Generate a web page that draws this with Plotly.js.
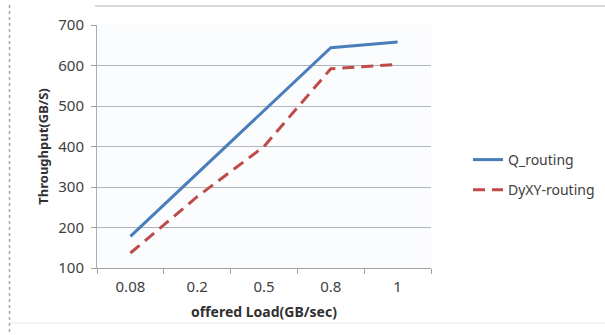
<!DOCTYPE html>
<html>
<head>
<meta charset="utf-8">
<script src="https://cdn.plot.ly/plotly-3.0.1.min.js"></script>
<style>html,body{margin:0;padding:0;background:#fff;}#chart{width:605px;height:335px;}</style>
</head>
<body>
<div id="chart"></div>
<script>
var categories = ["0.08", "0.2", "0.5", "0.8", "1"];
var qRouting = [178, 333, 487, 644, 658];
var dyxyRouting = [137, 276, 400, 592, 603];
var yTicks = [100, 200, 300, 400, 500, 600, 700];

var W = 605, H = 335, L = 97, R = 174, T = 25, B = 67;
function px(x) { return (x - L) / (W - L - R); }
function py(y) { return (H - B - y) / (H - T - B); }

var font = "Noto Sans, Liberation Sans, sans-serif";
var traces = [
  {x: categories, y: qRouting, name: "Q_routing", type: "scatter", mode: "lines",
   line: {color: "#4a7ebb", width: 3}, legendgroup: "a"},
  {x: categories, y: dyxyRouting, name: "DyXY-routing", type: "scatter", mode: "lines",
   line: {color: "#be4b48", width: 3, dash: "12px,7px"}, legendgroup: "b"}
];

var layout = {
  width: W, height: H,
  margin: {l: L, r: R, t: T, b: B, pad: 0, autoexpand: false},
  paper_bgcolor: "#ffffff",
  plot_bgcolor: "#fbfcfe",
  showlegend: true,
  legend: {x: px(468), y: py(144), xanchor: "left", yanchor: "top",
           font: {family: font, size: 14, color: "#404040"},
           tracegroupgap: 9, bgcolor: "rgba(0,0,0,0)"},
  xaxis: {
    type: "category", range: [-0.5, 4.5], automargin: false,
    tickson: "boundaries", ticks: "outside", ticklen: 5, tickcolor: "#a0a0a0",
    showline: true, linecolor: "#a0a0a0", linewidth: 1,
    showgrid: false, zeroline: false, ticklabelstandoff: 5,
    tickfont: {family: font, size: 15, color: "#404040"},
    title: {text: "offered Load(GB/sec)", font: {family: font, size: 14, color: "#303030", weight: "bold"}, standoff: 12}
  },
  yaxis: {
    range: [100, 700], tickvals: yTicks, ticktext: yTicks.map(String), automargin: false,
    ticks: "outside", ticklen: 5, tickcolor: "#a0a0a0",
    showline: true, linecolor: "#a0b0c0", linewidth: 1,
    showgrid: true, gridcolor: "#b0b6c0", gridwidth: 1, zeroline: false,
    ticklabelstandoff: 4,
    tickfont: {family: font, size: 15, color: "#404040"},
    title: {text: "Throughput(GB/S)", font: {family: font, size: 13, color: "#303030", weight: "bold"}, standoff: 6}
  },
  shapes: [
    {type: "line", xref: "paper", yref: "paper", x0: px(9.5), x1: px(9.5), y0: py(5), y1: py(335),
     line: {color: "#a8a8a8", width: 1.5, dash: "dot"}},
    {type: "line", xref: "paper", yref: "paper", x0: px(95), x1: px(605), y0: py(6), y1: py(6),
     line: {color: "#b0b0b0", width: 1}},
    {type: "line", xref: "paper", yref: "paper", x0: px(10), x1: px(605), y0: py(323), y1: py(323),
     line: {color: "#e8e8e8", width: 1}}
  ]
};

Plotly.newPlot("chart", traces, layout, {displayModeBar: false, staticPlot: true});
</script>
</body>
</html>
